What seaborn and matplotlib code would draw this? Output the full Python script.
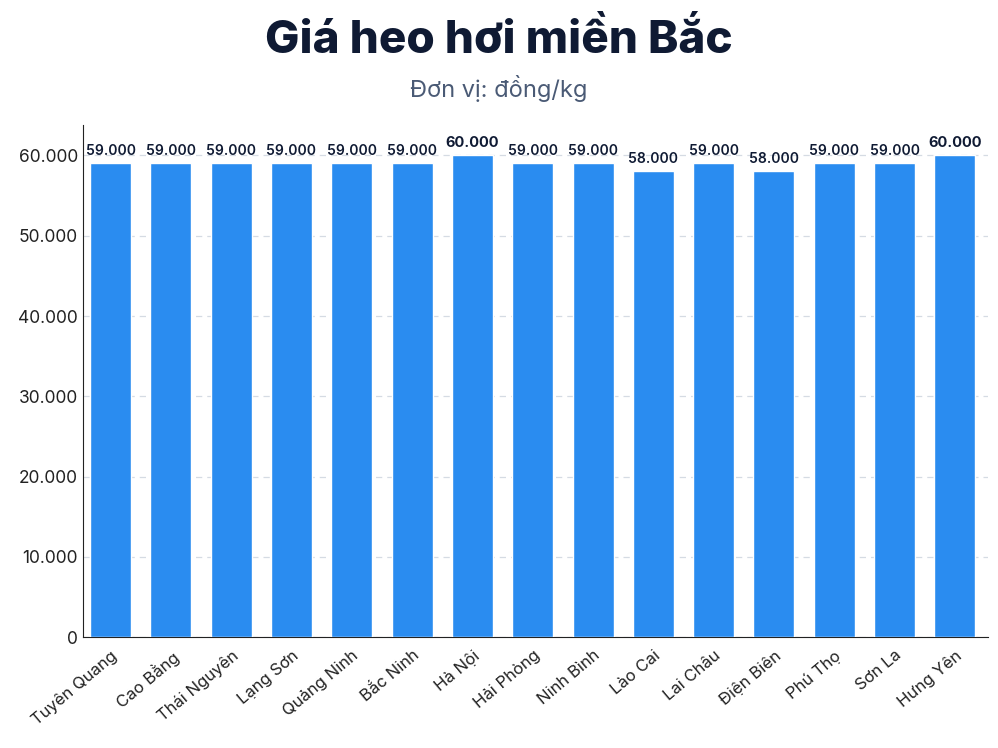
import matplotlib
matplotlib.use("Agg")
import matplotlib.pyplot as plt
import seaborn as sns
import pandas as pd
from matplotlib.ticker import FuncFormatter

provinces = ["Tuyên Quang", "Cao Bằng", "Thái Nguyên", "Lạng Sơn", "Quảng Ninh", "Bắc Ninh",
             "Hà Nội", "Hải Phòng", "Ninh Bình", "Lào Cai", "Lai Châu", "Điện Biên",
             "Phú Thọ", "Sơn La", "Hưng Yên"]
prices = [59000, 59000, 59000, 59000, 59000, 59000, 60000, 59000, 59000, 58000,
          59000, 58000, 59000, 59000, 60000]

sns.set_style("white")
plt.rcParams['font.family'] = ['Inter', 'DejaVu Sans']

df = pd.DataFrame({"p": provinces, "v": prices})
fig = plt.figure(figsize=(9.98, 7.48), dpi=100)
ax = fig.add_axes([0.083, 0.148, 0.907, 0.685])
sns.barplot(data=df, x="p", y="v", color="#2a8cf0", saturation=1, width=0.68, ax=ax, zorder=3)

fmt = lambda x: f"{int(x):,}".replace(",", ".")
ax.yaxis.set_major_formatter(FuncFormatter(lambda x, _: fmt(x)))
ax.set_ylim(0, 63800)
ax.set_xlim(-0.46, 14.55)
ax.set_yticks(range(0, 60001, 10000))
ax.grid(axis="y", linestyle=(0, (5, 4)), color="#d5dbe3", linewidth=0.9, zorder=0)
for s in ["top", "right"]:
    ax.spines[s].set_visible(False)
for s in ["left", "bottom"]:
    ax.spines[s].set_color("#222")
ax.tick_params(axis="y", labelsize=12.5, colors="#222", length=0)
ax.tick_params(axis="x", labelsize=12, colors="#222", length=4)
plt.setp(ax.get_xticklabels(), rotation=40, ha="right", rotation_mode="anchor")
ax.set_xlabel("")
ax.set_ylabel("")

mx = max(prices)
for i, v in enumerate(prices):
    ax.text(i, v + 700, fmt(v), ha="center", va="bottom", fontsize=10.5 if v == mx else 10,
            fontweight="bold" if v == mx else "semibold", color="#0f1a33")

fig.text(0.5, 0.945, "Giá heo hơi miền Bắc", ha="center", va="center",
         fontsize=33, fontweight="heavy", color="#0f1a33")
fig.text(0.5, 0.882, "Đơn vị: đồng/kg", ha="center", va="center",
         fontsize=17, color="#4a5a75")
fig.savefig("out.png", dpi=100)
